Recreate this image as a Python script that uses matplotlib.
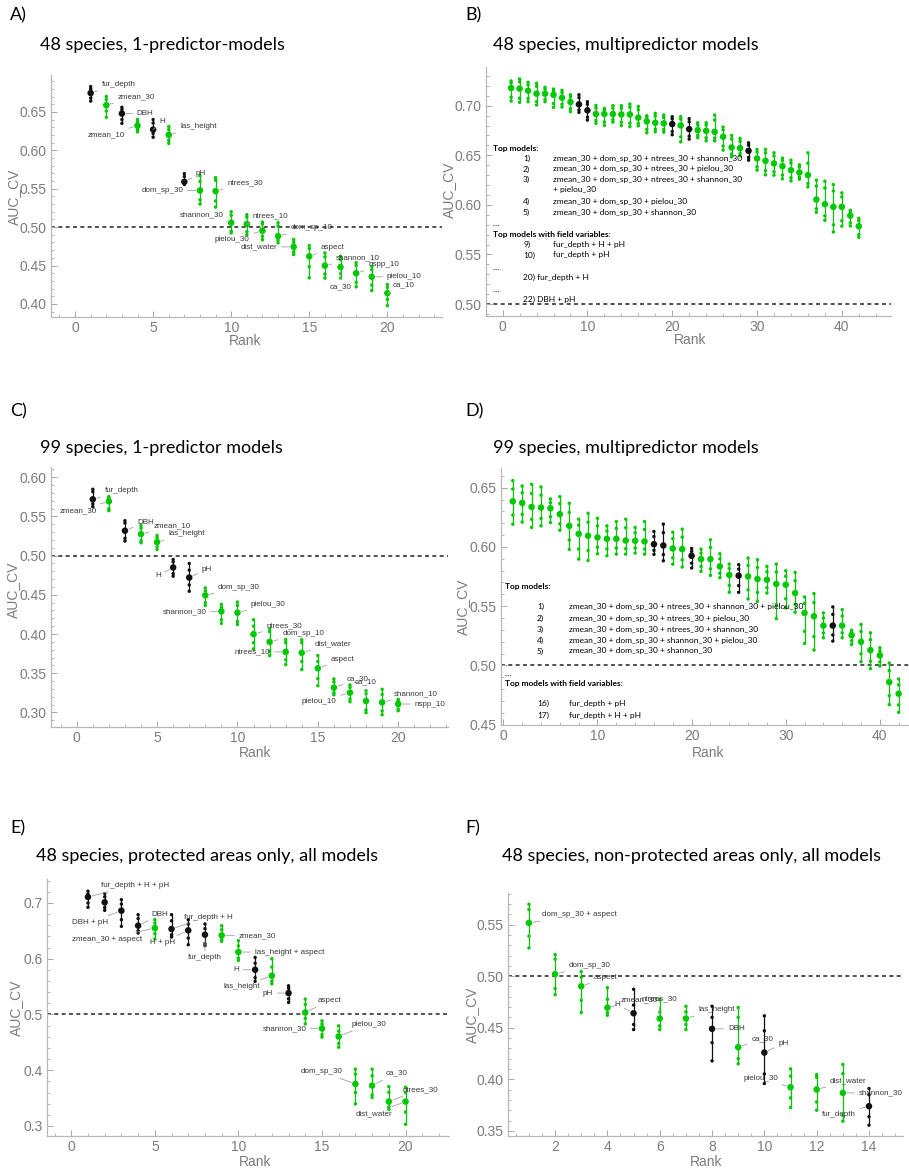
import numpy as np
import matplotlib
matplotlib.use('Agg')
import matplotlib.pyplot as plt
from matplotlib.ticker import MultipleLocator, FormatStrFormatter

# ---------------- DATA ----------------
# Panel A: 48 species, 1-predictor models
A_labels = ['fur_depth', 'zmean_30', 'DBH', 'zmean_10', 'H', 'las_height', 'pH', 'dom_sp_30',
            'ntrees_30', 'shannon_30', 'ntrees_10', 'pielou_30', 'dom_sp_10', 'dist_water',
            'aspect', 'shannon_10', 'ca_30', 'nspp_10', 'pielou_10', 'ca_10']
A_col = list('kgkgkgkggggggggggggg')
A_mean = [0.6745, 0.6587, 0.6478, 0.632, 0.627, 0.620, 0.559, 0.5477, 0.5468, 0.5057,
          0.504, 0.4953, 0.4883, 0.4743, 0.462, 0.4498, 0.448, 0.440, 0.4354, 0.414]
A_hi = [0.683, 0.670, 0.656, 0.640, 0.640, 0.631, 0.5696, 0.567, 0.5643, 0.520,
        0.5162, 0.5066, 0.5058, 0.4839, 0.476, 0.4664, 0.462, 0.4538, 0.449, 0.4253]
A_q3 = [0.680, 0.666, 0.653, 0.637, 0.6355, 0.627, 0.566, 0.5595, 0.561, 0.5154,
        0.513, 0.504, 0.5014, 0.4804, 0.4721, 0.4612, 0.4577, 0.450, 0.4446, 0.4214]
A_q1 = [0.668, 0.651, 0.640, 0.627, 0.622, 0.613, 0.5575, 0.5355, 0.534, 0.4948,
        0.494, 0.488, 0.483, 0.4677, 0.4485, 0.439, 0.4393, 0.428, 0.4245, 0.406]
A_lo = [0.664, 0.643, 0.635, 0.624, 0.617, 0.609, 0.5555, 0.530, 0.526, 0.4926,
        0.490, 0.4835, 0.4795, 0.4642, 0.434, 0.4336, 0.4336, 0.4223, 0.4175, 0.3978]

# Panel B: 48 species, multipredictor models
B_col = list('ggggggggkkgggggggggkgkggggggkggggggggggggg')
B_mean = [0.7178, 0.7172, 0.7151, 0.7121, 0.7121, 0.711, 0.708, 0.7037, 0.7013, 0.6953,
          0.6916, 0.6916, 0.6916, 0.6912, 0.6912, 0.6879, 0.6842, 0.6828, 0.6822, 0.6815,
          0.6801, 0.6764, 0.6754, 0.6747, 0.6737, 0.6687, 0.6579, 0.6572, 0.6545, 0.6468,
          0.6444, 0.6418, 0.639, 0.635, 0.6327, 0.630, 0.6054, 0.6007, 0.598, 0.598,
          0.5892, 0.5785]
B_hi = [0.7249, 0.7269, 0.7236, 0.7226, 0.7185, 0.7168, 0.7155, 0.711, 0.711, 0.704,
        0.7003, 0.6973, 0.700, 0.700, 0.7017, 0.6993, 0.6899, 0.6923, 0.6906, 0.6889,
        0.6889, 0.6869, 0.6828, 0.6828, 0.6906, 0.6785, 0.670, 0.667, 0.6626, 0.6559,
        0.6559, 0.6525, 0.6471, 0.6451, 0.6404, 0.6525, 0.6249, 0.6239, 0.6205, 0.6121,
        0.5946, 0.5865]
B_q3 = [0.7228, 0.7240, 0.7210, 0.7195, 0.7166, 0.7151, 0.7132, 0.7088, 0.7081, 0.7014,
        0.6977, 0.6956, 0.6975, 0.6974, 0.6986, 0.6959, 0.6882, 0.6895, 0.6881, 0.6867,
        0.6863, 0.6838, 0.6806, 0.6804, 0.6855, 0.6756, 0.6664, 0.6641, 0.6602, 0.6532,
        0.6525, 0.6493, 0.6447, 0.6421, 0.6381, 0.6420, 0.6190, 0.6170, 0.6140, 0.6080,
        0.5930, 0.5841]
B_q1 = [0.7086, 0.7075, 0.7073, 0.7041, 0.7064, 0.7021, 0.7015, 0.6969, 0.6957, 0.6884,
        0.6850, 0.6836, 0.6859, 0.6834, 0.6825, 0.6822, 0.6762, 0.6764, 0.6760, 0.6739,
        0.6686, 0.6693, 0.6700, 0.6676, 0.6673, 0.6593, 0.6513, 0.6518, 0.6479, 0.6385,
        0.6345, 0.6335, 0.6301, 0.6274, 0.6279, 0.6215, 0.5960, 0.5890, 0.5800, 0.5840,
        0.5818, 0.5700]
B_lo = [0.7047, 0.7034, 0.704, 0.7007, 0.704, 0.6983, 0.6987, 0.694, 0.6933, 0.6855,
        0.6822, 0.6801, 0.6835, 0.680, 0.6788, 0.6798, 0.6727, 0.6737, 0.6734, 0.6707,
        0.6636, 0.6663, 0.6677, 0.6646, 0.6646, 0.6552, 0.6485, 0.6495, 0.6451, 0.635,
        0.6303, 0.630, 0.6263, 0.6242, 0.6259, 0.6182, 0.5926, 0.5845, 0.5727, 0.5785,
        0.5788, 0.5673]

# Panel C: 99 species, 1-predictor models
C_labels = ['fur_depth', 'zmean_30', 'DBH', 'zmean_10', 'las_height', 'H', 'pH', 'dom_sp_30',
            'shannon_30', 'pielou_30', 'ntrees_30', 'dom_sp_10', 'ntrees_10', 'dist_water',
            'aspect', 'ca_30', 'pielou_10', 'ca_10', 'shannon_10', 'nspp_10']
C_col = list('kgkggkkggggggggggggg')
C_mean = [0.5718, 0.5692, 0.5317, 0.5274, 0.5172, 0.4848, 0.472, 0.4493, 0.4289, 0.4272,
          0.3998, 0.39, 0.3772, 0.376, 0.3563, 0.3316, 0.3252, 0.3145, 0.3128, 0.3107]
C_hi = [0.5846, 0.5752, 0.5445, 0.5385, 0.5257, 0.495, 0.4899, 0.4587, 0.4378, 0.4408,
        0.4182, 0.4067, 0.393, 0.3926, 0.3725, 0.3427, 0.335, 0.3278, 0.3295, 0.3167]
C_q3 = [0.5815, 0.5735, 0.5415, 0.5350, 0.5230, 0.4920, 0.4815, 0.4550, 0.4340, 0.4365,
        0.4100, 0.4030, 0.3890, 0.3890, 0.3650, 0.3390, 0.3320, 0.3240, 0.3230, 0.3150]
C_q1 = [0.5660, 0.5600, 0.5220, 0.5190, 0.5110, 0.4770, 0.4625, 0.4400, 0.4180, 0.4160,
        0.3890, 0.3780, 0.3670, 0.3650, 0.3430, 0.3250, 0.3170, 0.3030, 0.3020, 0.3040]
C_lo = [0.5624, 0.5573, 0.5185, 0.5163, 0.5078, 0.4737, 0.4545, 0.4365, 0.4135, 0.4122,
        0.381, 0.3725, 0.361, 0.3546, 0.3341, 0.3226, 0.3137, 0.2996, 0.297, 0.3021]

# Panel D: 99 species, multipredictor models
D_col = list('ggggggggggggggg' 'kk' 'gg' 'k' 'gggg' 'k' 'ggggggggg' 'k' 'ggggggg')
D_mean = [0.6385, 0.6371, 0.6337, 0.6332, 0.6326, 0.6276, 0.6178, 0.611, 0.6094, 0.608,
          0.6068, 0.6068, 0.6054, 0.6052, 0.6046, 0.6023, 0.6012, 0.5987, 0.5981, 0.5925,
          0.5897, 0.5897, 0.5836, 0.5763, 0.5757, 0.5751, 0.5729, 0.5723, 0.5687, 0.5681,
          0.5611, 0.5443, 0.5415, 0.5336, 0.5336, 0.5336, 0.5255, 0.5199, 0.5129, 0.5084,
          0.486, 0.4761]
D_hi = [0.6559, 0.6514, 0.6528, 0.6506, 0.6405, 0.6424, 0.6368, 0.6234, 0.6284, 0.6242,
        0.6178, 0.6214, 0.6234, 0.6164, 0.6214, 0.613, 0.6192, 0.6124, 0.615, 0.5987,
        0.5981, 0.606, 0.5942, 0.5855, 0.585, 0.5906, 0.5892, 0.5836, 0.5855, 0.5799,
        0.5785, 0.5578, 0.5606, 0.5443, 0.5494, 0.5471, 0.5297, 0.5345, 0.5275, 0.5149,
        0.502, 0.4885]
D_q3 = [0.6489, 0.6457, 0.6451, 0.6436, 0.6373, 0.6365, 0.6292, 0.6184, 0.6208, 0.6177,
        0.6134, 0.6156, 0.6162, 0.6119, 0.6147, 0.6087, 0.6120, 0.6069, 0.6083, 0.5962,
        0.5947, 0.5995, 0.5900, 0.5818, 0.5813, 0.5844, 0.5827, 0.5791, 0.5788, 0.5752,
        0.5715, 0.5524, 0.5530, 0.5400, 0.5431, 0.5417, 0.5280, 0.5287, 0.5217, 0.5123,
        0.4956, 0.4836]
D_q1 = [0.6269, 0.6274, 0.6233, 0.6240, 0.6254, 0.6195, 0.6059, 0.5982, 0.5969, 0.5997,
        0.5982, 0.5991, 0.5985, 0.5990, 0.5982, 0.5971, 0.5935, 0.5908, 0.5890, 0.5863,
        0.5835, 0.5815, 0.5778, 0.5675, 0.5673, 0.5637, 0.5616, 0.5656, 0.5512, 0.5563,
        0.5514, 0.5288, 0.5243, 0.5274, 0.5257, 0.5274, 0.5208, 0.5098, 0.5035, 0.5030,
        0.4745, 0.4667]
D_lo = [0.6192, 0.6209, 0.6164, 0.6178, 0.6206, 0.6141, 0.5979, 0.5897, 0.5886, 0.5942,
        0.5925, 0.5939, 0.5939, 0.5948, 0.5939, 0.5937, 0.5883, 0.5855, 0.583, 0.5822,
        0.5794, 0.576, 0.574, 0.5617, 0.5617, 0.5561, 0.5541, 0.5611, 0.5395, 0.5485,
        0.5449, 0.5185, 0.5129, 0.5233, 0.5205, 0.5233, 0.5177, 0.5031, 0.4972, 0.4994,
        0.4669, 0.4604]

# Panel E: 48 species, protected areas only, all models
E_labels = ['fur_depth + H + pH', None, 'DBH + pH', 'DBH', 'zmean_30 + aspect', 'fur_depth + H',
            'H + pH', 'fur_depth', 'zmean_30', 'las_height + aspect', 'H', 'las_height', 'pH',
            'aspect', 'shannon_30', 'pielou_30', 'dom_sp_30', 'ca_30', 'ntrees_30', 'dist_water']
E_col = list('kkkkgkkkggkgkggggggg')
E_mean = [0.7108, 0.7012, 0.6862, 0.6593, 0.6551, 0.6533, 0.6509, 0.6431, 0.6419, 0.612,
          0.5802, 0.5695, 0.5383, 0.5036, 0.4748, 0.4605, 0.3754, 0.3725, 0.3437, 0.3437]
E_hi = [0.721, 0.7168, 0.706, 0.679, 0.670, 0.679, 0.670, 0.6623, 0.6593, 0.6323,
        0.6024, 0.600, 0.5515, 0.5275, 0.4886, 0.4796, 0.4018, 0.4018, 0.3707, 0.3695]
E_q3 = [0.716, 0.711, 0.698, 0.672, 0.664, 0.668, 0.662, 0.654, 0.652, 0.623,
        0.592, 0.585, 0.547, 0.518, 0.483, 0.470, 0.393, 0.390, 0.360, 0.360]
E_q1 = [0.700, 0.692, 0.670, 0.650, 0.645, 0.643, 0.637, 0.627, 0.634, 0.601,
        0.566, 0.560, 0.528, 0.493, 0.464, 0.448, 0.360, 0.356, 0.334, 0.325]
E_lo = [0.6922, 0.6868, 0.6581, 0.6461, 0.6353, 0.6389, 0.6251, 0.6234, 0.6311, 0.597,
        0.5593, 0.5551, 0.5216, 0.4832, 0.4593, 0.4413, 0.3395, 0.3509, 0.3299, 0.303]

# Panel F: 48 species, non-protected areas only, all models
F_labels = ['dom_sp_30 + aspect', 'dom_sp_30', 'aspect', 'zmean_30', 'H', 'ntrees_30',
            'las_height', 'DBH', 'ca_30', 'pH', 'pielou_30', 'dist_water', 'shannon_30', 'fur_depth']
F_col = list('ggggkggkgkgggk')
F_mean = [0.5516, 0.5019, 0.4902, 0.4695, 0.464, 0.4589, 0.4589, 0.4489, 0.4311, 0.4259,
          0.3923, 0.3901, 0.3868, 0.3739]
F_hi = [0.5697, 0.5209, 0.5044, 0.4889, 0.4873, 0.4773, 0.4708, 0.4708, 0.4695, 0.4615,
        0.4101, 0.4046, 0.4143, 0.391]
F_q3 = [0.5645, 0.5164, 0.4990, 0.4775, 0.4720, 0.4650, 0.4653, 0.4600, 0.4600, 0.4470,
        0.4030, 0.4020, 0.4055, 0.3850]
F_q1 = [0.5388, 0.4879, 0.4766, 0.4645, 0.4531, 0.4518, 0.4531, 0.4355, 0.4200, 0.4052,
        0.3820, 0.3780, 0.3650, 0.3637]
F_lo = [0.5274, 0.4821, 0.4647, 0.4621, 0.4482, 0.4482, 0.4482, 0.4178, 0.415, 0.3959,
        0.3726, 0.370, 0.3594, 0.3555]

B_text = [("Top models:", None), ("1)", "zmean_30 + dom_sp_30 + ntrees_30 + shannon_30"),
          ("2)", "zmean_30 + dom_sp_30 + ntrees_30 + pielou_30"),
          ("3)", "zmean_30 + dom_sp_30 + ntrees_30 + shannon_30"), ("", "+ pielou_30"),
          ("4)", "zmean_30 + dom_sp_30 + pielou_30"), ("5)", "zmean_30 + dom_sp_30 + shannon_30"),
          ("…", None), ("Top models with field variables:", None),
          ("9)", "fur_depth + H + pH"), ("10)", "fur_depth + pH"), ("…", None),
          ("20) fur_depth + H", None), ("…", None), ("22) DBH + pH", None)]
D_text = [("Top models:", None),
          ("1)", "zmean_30 + dom_sp_30 + ntrees_30 + shannon_30 + pielou_30"),
          ("2)", "zmean_30 + dom_sp_30 + ntrees_30 + pielou_30"),
          ("3)", "zmean_30 + dom_sp_30 + ntrees_30 + shannon_30"),
          ("4)", "zmean_30 + dom_sp_30 + shannon_30 + pielou_30"),
          ("5)", "zmean_30 + dom_sp_30 + shannon_30"),
          ("…", None), ("Top models with field variables:", None),
          ("16)", "fur_depth + pH"), ("17)", "fur_depth + H + pH")]

# ---------------- STYLE / LAYOUT ----------------
W, H = 909, 1169
fig = plt.figure(figsize=(W / 100, H / 100), dpi=100)
GREEN = '#00c800'
BLACK = '#111111'
TICKC = '#a8a8a8'
LABC = '#7c7c7c'
TFONT = 'Lato'
AFONT = 'Liberation Sans'
BFS = 6.0


def add_ax(l, t, r, b):
    return fig.add_axes([l / W, 1 - b / H, (r - l) / W, (b - t) / H])


def ftext(x, y, s, **kw):
    fig.text(x / W, 1 - y / H, s, **kw)


def style(ax, xlim, ylim, xmaj, xmin, ymaj, ymin, yfmt):
    ax.set_xlim(*xlim)
    ax.set_ylim(*ylim)
    ax.patch.set_alpha(0)
    for s in ['top', 'right']:
        ax.spines[s].set_visible(False)
    for s in ['left', 'bottom']:
        ax.spines[s].set_color('#b8b8b8')
        ax.spines[s].set_linewidth(0.9)
    ax.xaxis.set_major_locator(MultipleLocator(xmaj))
    ax.xaxis.set_minor_locator(MultipleLocator(xmin))
    ax.yaxis.set_major_locator(MultipleLocator(ymaj))
    ax.yaxis.set_minor_locator(MultipleLocator(ymin))
    ax.yaxis.set_major_formatter(FormatStrFormatter(yfmt))
    ax.tick_params(which='both', direction='in', color=TICKC, labelcolor=LABC, labelsize=10)
    ax.tick_params(which='major', length=4, width=0.7, pad=3)
    ax.tick_params(which='minor', length=2.2, width=0.6)
    for lab in ax.get_xticklabels() + ax.get_yticklabels():
        lab.set_fontfamily(AFONT)
    ax.axhline(0.5, color='#222222', lw=1.1, ls=(0, (2.6, 2.2)), zorder=1)


def draw_items(ax, mean, lo, q1, q3, hi, col):
    ranks = np.arange(1, len(mean) + 1)
    cols = [GREEN if c == 'g' else BLACK for c in col]
    ax.vlines(ranks, lo, hi, colors=cols, lw=0.9, zorder=2)
    for arr in (lo, q1, q3, hi):
        ax.scatter(ranks, arr, s=6, c=cols, edgecolors='none', zorder=3)
    ax.scatter(ranks, mean, s=22, c=cols, edgecolors='none', zorder=4)
    return ranks


def draw_labels(ax, ranks, mean, labels, offs):
    for r, m, lab, (dx, dy, ha) in zip(ranks, mean, labels, offs):
        if lab is None:
            continue
        ax.annotate(lab, xy=(r, m), xytext=(dx, dy), textcoords='offset pixels',
                    ha=ha, va='center', fontsize=5.8, color='#383838', family=AFONT,
                    arrowprops=dict(arrowstyle='-', color='#a0a0a0', lw=0.6,
                                    shrinkA=1.0, shrinkB=3.0), zorder=5)


def head(xl, yl, letter, xt, yt, title):
    ftext(xl, yl, letter, fontsize=13, family=TFONT, va='center', ha='left')
    ftext(xt, yt, title, fontsize=13, family=TFONT, va='center', ha='left')


def axlabels(xr, yr, xa, ya):
    ftext(xr, yr, 'Rank', fontsize=10, color=LABC, family=AFONT, ha='center', va='center')
    ftext(xa, ya, 'AUC_CV', fontsize=10, color=LABC, family=AFONT, ha='center', va='center',
          rotation=90)


def text_block(lines, x0, x1, x2, ys):
    for (a, b), y in zip(lines, ys):
        if b is None:
            if a.startswith('Top'):
                ftext(x0, y, a, fontsize=BFS, family=TFONT, weight='bold', va='center')
            elif a == '…':
                ftext(x0, y, a, fontsize=BFS, family=TFONT, va='center')
            else:
                ftext(x1, y, a, fontsize=BFS, family=TFONT, va='center')
        else:
            if a:
                ftext(x1, y, a, fontsize=BFS, family=TFONT, va='center')
            ftext(x2, y, b, fontsize=BFS, family=TFONT, va='center')


# ---- Panel A ----
axA = add_ax(51, 75, 442, 317)
style(axA, (-1.54, 23.5), (0.383, 0.698), 5, 1, 0.05, 0.01, '%.2f')
rA = draw_items(axA, A_mean, A_lo, A_q1, A_q3, A_hi, A_col)
A_offs = [(11, 8.7, 'left'), (11, 8.3, 'left'), (14.7, 0, 'left'), (-12.7, -9, 'right'),
          (6.7, 8.3, 'left'), (11.3, 8.7, 'left'), (11.3, 8.3, 'left'), (-16.7, 0, 'right'),
          (11.7, 8.3, 'left'), (-7.3, 8, 'right'), (5.3, 8, 'left'), (-12.7, -9, 'right'),
          (12.3, 8.3, 'left'), (-16.3, 0, 'right'), (11.3, 8.7, 'left'), (11, 8, 'left'),
          (0, -19.3, 'center'), (12, 8.7, 'left'), (14.7, 0, 'left'), (5.7, 8, 'left')]
draw_labels(axA, rA, A_mean, A_labels, A_offs)
head(10, 15, 'A)', 40, 45, '48 species, 1-predictor-models')
axlabels(245, 341, 14, 197)

# ---- Panel B ----
axB = add_ax(486, 67, 891, 316)
style(axB, (-1.96, 45.8), (0.488, 0.739), 10, 2, 0.05, 0.01, '%.2f')
draw_items(axB, B_mean, B_lo, B_q1, B_q3, B_hi, B_col)
head(465, 15, 'B)', 493, 45, '48 species, multipredictor models')
axlabels(690, 340, 449, 190)
text_block(B_text, 493, 523, 553,
           [148.3, 158.3, 169, 179.3, 189.3, 201.3, 212, 224, 234.3, 244, 255, 267.7, 277,
            289.7, 299])

# ---- Panel C ----
axC = add_ax(51, 467, 448, 727)
style(axC, (-1.6, 23.1), (0.2814, 0.613), 5, 1, 0.05, 0.01, '%.2f')
rC = draw_items(axC, C_mean, C_lo, C_q1, C_q3, C_hi, C_col)
C_offs = [(11.7, 8.7, 'left'), (-12.3, -9.3, 'right'), (12.3, 8.7, 'left'), (12.3, 8.3, 'left'),
          (11, 8.3, 'left'), (-12.3, -8.3, 'right'), (12.3, 8.3, 'left'), (12.7, 8.3, 'left'),
          (-15, 0, 'right'), (13, 8.3, 'left'), (12.7, 8.7, 'left'), (12.7, 8.3, 'left'),
          (-15.3, 0, 'right'), (12.7, 8.7, 'left'), (12.7, 8.3, 'left'), (12.7, 8.7, 'left'),
          (-13.3, -9, 'right'), (0, 19.3, 'center'), (12, 9, 'left'), (16, 0, 'left')]
draw_labels(axC, rC, C_mean, C_labels, C_offs)
head(10, 411, 'C)', 40, 448, '99 species, 1-predictor models')
axlabels(255, 753, 13, 590)

# ---- Panel D ----
axD = add_ax(501, 468, 909, 725)
style(axD, (-0.25, 43.1), (0.4497, 0.6666), 10, 2, 0.05, 0.01, '%.2f')
draw_items(axD, D_mean, D_lo, D_q1, D_q3, D_hi, D_col)
head(465, 411, 'D)', 493, 448, '99 species, multipredictor models')
axlabels(708, 753, 463, 607)
text_block(D_text, 505, 537, 568.7,
           [586.7, 606.7, 618.3, 629.3, 640.3, 651, 673.3, 683.3, 703.3, 715.7])

# ---- Panel E ----
axE = add_ax(47, 879, 449, 1136)
style(axE, (-1.45, 22.6), (0.282, 0.743), 5, 1, 0.1, 0.02, '%.1f')
rE = draw_items(axE, E_mean, E_lo, E_q1, E_q3, E_hi, E_col)
E_offs = [(12.7, 11.7, 'left'), (0, 0, 'left'), (-13, -11.7, 'right'), (13.7, 11.3, 'left'),
          (-13, -11, 'right'), (12.7, 12, 'left'), (-13.3, -12, 'right'), (0, -23.3, 'center'),
          (16.7, 0, 'left'), (16.3, 0, 'left'), (-16, 0, 'right'), (-12, -10.7, 'right'),
          (-15.3, 0, 'right'), (12.7, 12, 'left'), (-15.7, 0, 'right'), (12.7, 12.3, 'left'),
          (-13, 12.3, 'right'), (13.3, 12.3, 'left'), (13.3, 12.3, 'left'), (-13.3, -11.7, 'right')]
draw_labels(axE, rE, E_mean, E_labels, E_offs)
head(10, 828, 'E)', 36, 856, '48 species, protected areas only, all models')
axlabels(255, 1162, 16, 1008)

# ---- Panel F ----
axF = add_ax(508, 893, 903, 1136)
style(axF, (0.2, 15.3), (0.345, 0.5806), 2, 0.5, 0.05, 0.01, '%.2f')
rF = draw_items(axF, F_mean, F_lo, F_q1, F_q3, F_hi, F_col)
F_offs = [(13, 8.3, 'left'), (13.3, 9, 'left'), (12, 8.7, 'left'), (13.3, 8.3, 'left'),
          (-13, 8.7, 'right'), (17.3, 19.3, 'right'), (12.3, 9, 'left'), (16, 0, 'left'),
          (13, 8, 'left'), (13.7, 9, 'left'), (-12.7, 8.7, 'right'), (13, 8.3, 'left'),
          (16, 0, 'left'), (-13, -8, 'right')]
draw_labels(axF, rF, F_mean, F_labels, F_offs)
head(465, 828, 'F)', 502, 856, '48 species, non-protected areas only, all models')
axlabels(706, 1162, 472, 1015)

fig.savefig('out.png', dpi=100)
